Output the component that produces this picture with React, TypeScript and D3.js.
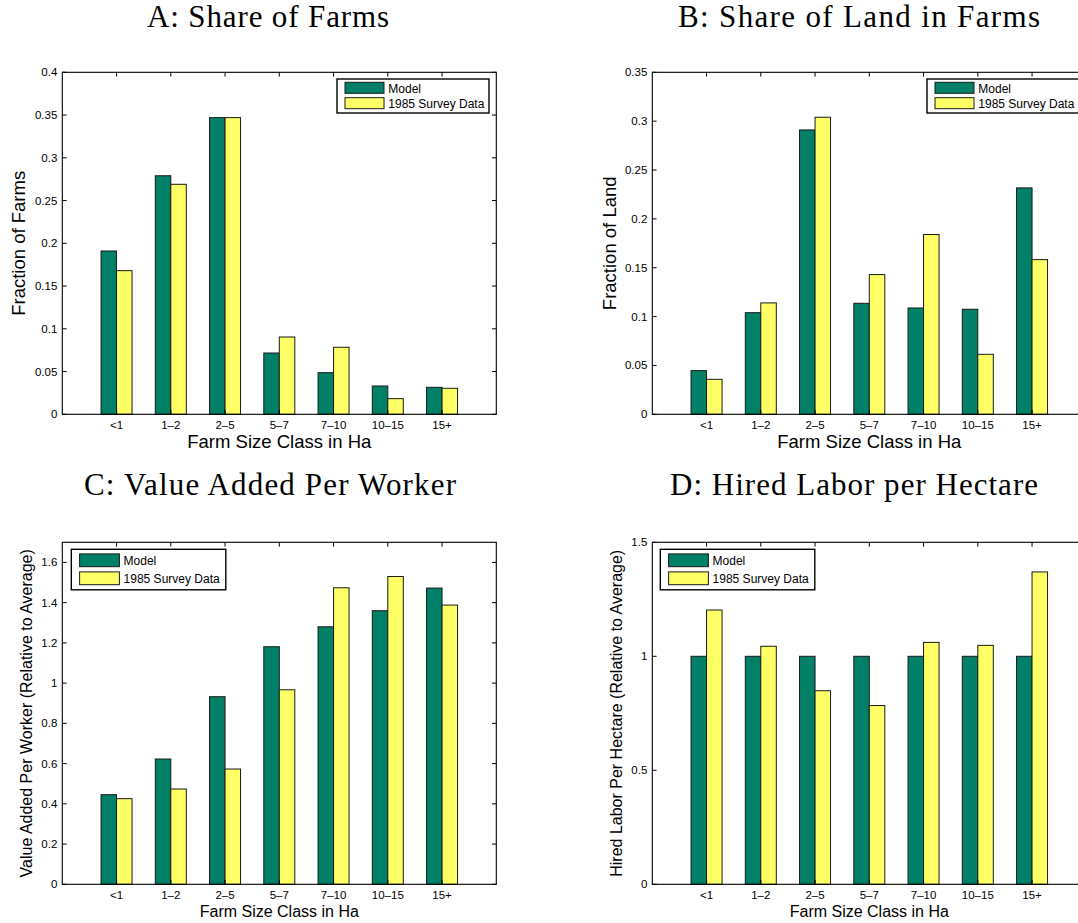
import React, { useEffect } from "react";
import * as d3 from "d3";

const categories = ["<1", "1–2", "2–5", "5–7", "7–10", "10–15", "15+"];
const seriesNames = ["Model", "1985 Survey Data"];

const modelA = [0.191, 0.279, 0.347, 0.0717, 0.0487, 0.0331, 0.0316];
const surveyA = [0.168, 0.269, 0.347, 0.0904, 0.0784, 0.0183, 0.0304];
const modelB = [0.0447, 0.104, 0.291, 0.1136, 0.1088, 0.1075, 0.2317];
const surveyB = [0.0358, 0.114, 0.304, 0.143, 0.184, 0.0614, 0.1583];
const modelC = [0.4455, 0.6228, 0.9325, 1.181, 1.28, 1.36, 1.4725];
const surveyC = [0.4257, 0.4737, 0.573, 0.967, 1.474, 1.53, 1.388];
const modelD = [1, 1, 1, 1, 1, 1, 1];
const surveyD = [1.203, 1.044, 0.849, 0.784, 1.061, 1.048, 1.37];

const ticksA = [0, 0.05, 0.1, 0.15, 0.2, 0.25, 0.3, 0.35, 0.4];
const tickLabelsA = ["0", "0.05", "0.1", "0.15", "0.2", "0.25", "0.3", "0.35", "0.4"];
const ticksB = [0, 0.05, 0.1, 0.15, 0.2, 0.25, 0.3, 0.35];
const tickLabelsB = ["0", "0.05", "0.1", "0.15", "0.2", "0.25", "0.3", "0.35"];
const ticksC = [0, 0.2, 0.4, 0.6, 0.8, 1, 1.2, 1.4, 1.6];
const tickLabelsC = ["0", "0.2", "0.4", "0.6", "0.8", "1", "1.2", "1.4", "1.6"];
const ticksD = [0, 0.5, 1, 1.5];
const tickLabelsD = ["0", "0.5", "1", "1.5"];

const GREEN = "#008066";
const YELLOW = "#FFFF66";
const SANS = "'Liberation Sans', Arial, Helvetica, sans-serif";
const SERIF = "'Liberation Serif', 'Times New Roman', serif";

type Leg = { x: number; y: number; w: number; h: number; sx: number; sw: number; g: number; yl: number; sh: number; tx: number; b1: number; b2: number };

type PanelProps = {
  left: number;
  top: number;
  yMax: number;
  ticks: number[];
  tickLabels: string[];
  model: number[];
  survey: number[];
  yLabel: string;
  labelSize: number;
  yLabelOff: number;
  xLabelOff: number;
  legend: Leg;
  title: string;
  titleX: number;
  titleY: number;
  titleW: number;
};

const W = 434;
const H = 342;

function Panel(p: PanelProps) {
  const x = d3.scaleLinear().domain([0, 8]).range([p.left, p.left + W]);
  const y = d3.scaleLinear().domain([0, p.yMax]).range([p.top + H, p.top]);
  const bw = 2 / 7;
  const tl = 4.3;
  const L = p.legend;
  const lx = p.left + L.x;
  const ly = p.top + L.y;
  return (
    <g>
      <text x={p.titleX} y={p.titleY} textAnchor="middle" fontFamily={SERIF} fontSize={31} textLength={p.titleW} lengthAdjust="spacing" fill="#000">
        {p.title}
      </text>
      <rect x={p.left} y={p.top} width={W} height={H} fill="#fff" />
      {categories.map((c, i) => {
        const cx = i + 1;
        return (
          <g key={c}>
            <rect x={x(cx - bw)} y={y(p.model[i])} width={x(cx) - x(cx - bw)} height={y(0) - y(p.model[i])} fill={GREEN} stroke="#1a1a1a" strokeWidth={1} />
            <rect x={x(cx)} y={y(p.survey[i])} width={x(cx + bw) - x(cx)} height={y(0) - y(p.survey[i])} fill={YELLOW} stroke="#1a1a1a" strokeWidth={1} />
          </g>
        );
      })}
      {categories.map((c, i) => (
        <g key={"xt" + c}>
          <line x1={x(i + 1)} x2={x(i + 1)} y1={p.top + H} y2={p.top + H - tl} stroke="#000" />
          <line x1={x(i + 1)} x2={x(i + 1)} y1={p.top} y2={p.top + tl} stroke="#000" />
          <text x={x(i + 1)} y={p.top + H + 14.5} textAnchor="middle" fontFamily={SANS} fontSize={11.5} fill="#000">
            {c}
          </text>
        </g>
      ))}
      {p.ticks.map((t, i) => (
        <g key={"yt" + i}>
          <line x1={p.left} x2={p.left + tl} y1={y(t)} y2={y(t)} stroke="#000" />
          <line x1={p.left + W} x2={p.left + W - tl} y1={y(t)} y2={y(t)} stroke="#000" />
          <text x={p.left - 5} y={y(t) + 4} textAnchor="end" fontFamily={SANS} fontSize={11.5} fill="#000">
            {p.tickLabels[i]}
          </text>
        </g>
      ))}
      <rect x={p.left} y={p.top} width={W} height={H} fill="none" stroke="#000" strokeWidth={1.1} />
      <rect x={lx} y={ly} width={L.w} height={L.h} fill="#fff" stroke="#000" strokeWidth={1.4} />
      <rect x={lx + L.sx} y={ly + L.g} width={L.sw} height={L.sh} fill={GREEN} stroke="#1a1a1a" strokeWidth={1} />
      <rect x={lx + L.sx} y={ly + L.yl} width={L.sw} height={L.sh} fill={YELLOW} stroke="#1a1a1a" strokeWidth={1} />
      <text x={lx + L.tx} y={ly + L.b1} fontFamily={SANS} fontSize={12} fill="#000">
        {seriesNames[0]}
      </text>
      <text x={lx + L.tx} y={ly + L.b2} fontFamily={SANS} fontSize={12} fill="#000">
        {seriesNames[1]}
      </text>
      <text x={p.left + W / 2} y={p.top + H + p.xLabelOff} textAnchor="middle" fontFamily={SANS} fontSize={p.labelSize} fill="#000">
        Farm Size Class in Ha
      </text>
      <text
        transform={`translate(${p.left - p.yLabelOff},${p.top + H / 2}) rotate(-90)`}
        textAnchor="middle"
        fontFamily={SANS}
        fontSize={p.labelSize}
        fill="#000"
      >
        {p.yLabel}
      </text>
    </g>
  );
}

const legTop: Leg = { x: 274.7, y: 6.7, w: 152, h: 34, sx: 8, sw: 39, g: 3.3, yl: 18.7, sh: 11, tx: 51.3, b1: 14.3, b2: 29 };
const legBot: Leg = { x: 9, y: 7, w: 154.5, h: 40.5, sx: 8.3, sw: 39.8, g: 4.6, yl: 22.6, sh: 12.8, tx: 52.3, b1: 15.6, b2: 33.5 };

export default function App() {
  useEffect(() => {
    document.body.style.margin = "0";
  }, []);
  return (
    <svg width={1078} height={923} style={{ position: "absolute", left: 0, top: 0, display: "block", background: "#fff" }}>
      <rect x={0} y={0} width={1078} height={923} fill="#fff" />
      <Panel left={62.3} top={72.3} yMax={0.4} ticks={ticksA} tickLabels={tickLabelsA} model={modelA} survey={surveyA}
        yLabel="Fraction of Farms" labelSize={18.5} yLabelOff={37.3} xLabelOff={34} legend={legTop}
        title="A: Share of Farms" titleX={268} titleY={27.3} titleW={242} />
      <Panel left={652.3} top={72.3} yMax={0.35} ticks={ticksB} tickLabels={tickLabelsB} model={modelB} survey={surveyB}
        yLabel="Fraction of Land" labelSize={18.5} yLabelOff={36.6} xLabelOff={34} legend={legTop}
        title="B: Share of Land in Farms" titleX={859} titleY={27.3} titleW={362} />
      <Panel left={62.3} top={542.3} yMax={1.7} ticks={ticksC} tickLabels={tickLabelsC} model={modelC} survey={surveyC}
        yLabel="Value Added Per Worker (Relative to Average)" labelSize={16} yLabelOff={30.3} xLabelOff={32.2} legend={legBot}
        title="C: Value Added Per Worker" titleX={270} titleY={495.3} titleW={372} />
      <Panel left={652.3} top={542.3} yMax={1.5} ticks={ticksD} tickLabels={tickLabelsD} model={modelD} survey={surveyD}
        yLabel="Hired Labor Per Hectare (Relative to Average)" labelSize={16} yLabelOff={30} xLabelOff={32.2}
        legend={{ ...legBot, x: 8 }}
        title="D: Hired Labor per Hectare" titleX={854} titleY={495.3} titleW={368} />
    </svg>
  );
}
